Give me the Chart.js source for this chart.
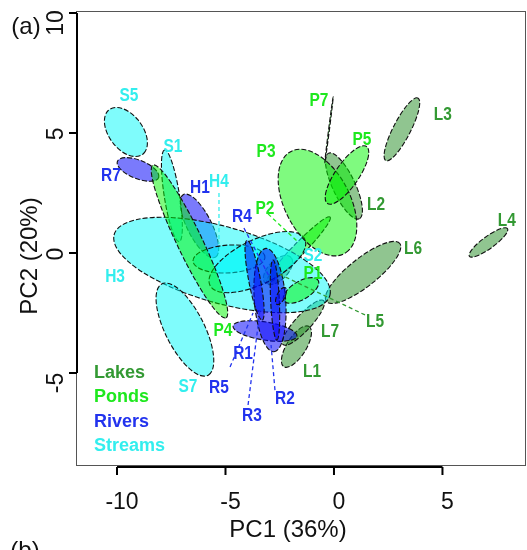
<!DOCTYPE html>
<html>
<head>
<meta charset="utf-8">
<script src="https://cdn.jsdelivr.net/npm/chart.js@4.4.1/dist/chart.umd.min.js"></script>
<style>
  html, body { margin: 0; padding: 0; background: #fff; }
  #wrap { width: 527px; height: 550px; }
</style>
</head>
<body>
<div id="wrap"><canvas id="pca-chart" width="527" height="550"></canvas></div>
<script>
// PC score limits and ticks
const xLimits = [-11.89, 8.85];
const yLimits = [-8.83, 10.08];
const xTicks = [-10, -5, 0, 5];
const yTicks = [-5, 0, 5, 10];

const groupNames = ["Lakes", "Ponds", "Rivers", "Streams"];
const groupFill = ["rgba(34,139,34,0.5)", "rgba(0,245,0,0.5)", "rgba(0,0,250,0.52)", "rgba(0,250,250,0.5)"];
const groupText = ["#339933", "#1ee81e", "#2233ee", "#33eeee"];

// one ellipse per site: centre, semi-axes and tilt (deg) in PC units, drawn in this order
const siteNames = ["L1", "L2", "L3", "L4", "L5", "L6", "L7", "H1", "R7", "P2",
  "S5", "S1", "H3", "H4", "S2", "S7", "P1", "P3", "P4", "P5", "P7",
  "R1", "R2", "R3", "R4", "R5"];
const siteGroup = ["Lakes", "Lakes", "Lakes", "Lakes", "Lakes", "Lakes", "Lakes", "Rivers", "Rivers", "Ponds",
  "Streams", "Streams", "Streams", "Streams", "Streams", "Streams", "Ponds", "Ponds", "Ponds", "Ponds", "Ponds",
  "Rivers", "Rivers", "Rivers", "Rivers", "Rivers"];
const centreX = [-1.73, 0.46, 3.13, 7.12, -2.58, 1.34, -1.41, -6.20, -9.03, -1.64,
  -9.59, -7.47, -5.16, -4.84, -3.53, -6.87, -1.52, -0.76, -6.66, 0.60, -0.23,
  -3.18, -2.95, -2.72, -3.66, -2.44];
const centreY = [-3.90, 2.79, 5.15, 0.44, -0.71, -0.81, -2.90, 1.13, 3.48, 0.13,
  5.04, 2.38, -0.50, -0.25, -0.38, -3.19, -1.56, 2.10, 0.48, 3.25, 5.13,
  -3.25, -1.96, -1.96, -1.13, -1.79];
const semiMajor = [1.02, 1.54, 1.50, 1.05, 0.80, 2.08, 1.31, 1.50, 1.01, 2.00,
  1.21, 1.94, 5.13, 1.66, 2.39, 2.18, 0.90, 2.46, 3.60, 1.49, 1.39,
  1.49, 2.16, 1.67, 1.70, 0.40];
const semiMinor = [0.43, 0.51, 0.39, 0.26, 0.43, 0.61, 0.35, 0.55, 0.39, 0.27,
  0.75, 0.35, 1.60, 0.58, 0.94, 0.88, 0.39, 1.47, 0.57, 0.52, 0.02,
  0.38, 0.72, 0.20, 0.27, 0.18];
const tiltDeg = [54, -62, 60, 33, 40, 35, 44, -60, -19, 43,
  -47, 100, -14, 3, 23, -60, 27, -57.5, -62, 52, 82,
  -8, -85, -87, -78, 60];

// where each site name is written
const labelX = [-1.01, 1.94, 5.02, 7.97, 1.89, 3.64, -0.18, -6.18, -10.28, -3.18,
  -9.45, -7.42, -10.09, -5.30, -0.97, -6.73, -0.97, -3.13, -5.12, 1.29, -0.69,
  -4.19, -2.26, -3.78, -4.24, -5.30];
const labelY = [-4.96, 2.00, 5.75, 1.33, -2.88, 0.17, -3.29, 2.71, 3.21, 1.83,
  6.54, 4.42, -1.00, 2.96, -0.13, -5.58, -0.88, 4.21, -3.25, 4.71, 6.33,
  -4.21, -6.08, -6.79, 1.50, -5.63];

// dashed leaders from a name to its ellipse
const leaderSite = ["H4", "P2", "R4", "L5", "R5", "R3", "R2"];
const leaderFromX = [-5.30, -3.04, -4.15, 1.43, -4.79, -3.96, -2.72];
const leaderFromY = [2.50, 1.63, 1.04, -2.58, -4.75, -6.33, -5.71];
const leaderToX = [-5.30, -1.66, -2.95, -2.63, -3.73, -3.41, -2.90];
const leaderToY = [0.375, 0.46, -1.04, -0.83, -2.50, -2.38, -3.83];

const axisFont = '23px "Liberation Sans", Arial, sans-serif';
const siteFont = 'bold 18px "Liberation Sans", Arial, sans-serif';
const legendFont = 'bold 18px "Liberation Sans", Arial, sans-serif';

function groupIndex(name) {
  return groupNames.indexOf(name);
}

const ellipsePlugin = {
  id: "siteEllipses",
  beforeDatasetsDraw(chart) {
    const { ctx, chartArea } = chart;
    const xs = chart.scales.x;
    const ys = chart.scales.y;
    const kx = xs.getPixelForValue(1) - xs.getPixelForValue(0);
    const ky = ys.getPixelForValue(0) - ys.getPixelForValue(1);

    ctx.save();
    ctx.beginPath();
    ctx.rect(chartArea.left, chartArea.top, chartArea.right - chartArea.left, chartArea.bottom - chartArea.top);
    ctx.clip();

    siteNames.forEach((name, i) => {
      ctx.save();
      ctx.translate(xs.getPixelForValue(centreX[i]), ys.getPixelForValue(centreY[i]));
      ctx.scale(kx, -ky);
      ctx.rotate(tiltDeg[i] * Math.PI / 180);
      ctx.beginPath();
      ctx.ellipse(0, 0, semiMajor[i], semiMinor[i], 0, 0, Math.PI * 2);
      ctx.restore();
      ctx.fillStyle = groupFill[groupIndex(siteGroup[i])];
      ctx.fill();
      ctx.setLineDash([5, 2]);
      ctx.lineWidth = 1.1;
      ctx.strokeStyle = "#111";
      ctx.stroke();
    });

    // leader lines
    leaderSite.forEach((name, i) => {
      const g = groupIndex(siteGroup[siteNames.indexOf(name)]);
      ctx.beginPath();
      ctx.moveTo(xs.getPixelForValue(leaderFromX[i]), ys.getPixelForValue(leaderFromY[i]));
      ctx.lineTo(xs.getPixelForValue(leaderToX[i]), ys.getPixelForValue(leaderToY[i]));
      ctx.setLineDash([4, 3]);
      ctx.lineWidth = 1.3;
      ctx.strokeStyle = groupText[g];
      ctx.stroke();
    });
    ctx.restore();
  },
};

const decorPlugin = {
  id: "axesAndText",
  afterDraw(chart) {
    const { ctx, chartArea } = chart;
    const xs = chart.scales.x;
    const ys = chart.scales.y;
    ctx.save();
    ctx.setLineDash([]);

    // plot box
    ctx.strokeStyle = "#555";
    ctx.lineWidth = 1;
    ctx.strokeRect(chartArea.left + 0.5, chartArea.top + 0.5,
      chartArea.right - chartArea.left - 1, chartArea.bottom - chartArea.top);

    // x axis
    const xAxisY = chartArea.bottom + 2;
    ctx.strokeStyle = "#000";
    ctx.lineWidth = 2;
    ctx.beginPath();
    ctx.moveTo(xs.getPixelForValue(xTicks[0]), xAxisY);
    ctx.lineTo(xs.getPixelForValue(xTicks[xTicks.length - 1]), xAxisY);
    xTicks.forEach((t) => {
      const px = xs.getPixelForValue(t);
      ctx.moveTo(px, xAxisY);
      ctx.lineTo(px, xAxisY + 8);
    });
    ctx.stroke();

    // y axis
    const yAxisX = chartArea.left + 1;
    ctx.beginPath();
    ctx.moveTo(yAxisX, ys.getPixelForValue(yTicks[0]));
    ctx.lineTo(yAxisX, ys.getPixelForValue(yTicks[yTicks.length - 1]));
    yTicks.forEach((t) => {
      const py = ys.getPixelForValue(t);
      ctx.moveTo(yAxisX, py);
      ctx.lineTo(yAxisX - 8, py);
    });
    ctx.stroke();

    ctx.fillStyle = "#111";
    ctx.font = axisFont;
    ctx.textAlign = "center";
    ctx.textBaseline = "middle";
    xTicks.forEach((t) => {
      ctx.fillText(String(t), xs.getPixelForValue(t) + 5, xAxisY + 36);
    });
    yTicks.forEach((t) => {
      const label = String(t);
      ctx.save();
      ctx.translate(yAxisX - 20, ys.getPixelForValue(t) + (label.length > 1 ? 10 : 1));
      ctx.rotate(-Math.PI / 2);
      ctx.fillText(label, 0, 0);
      ctx.restore();
    });

    ctx.font = '24px "Liberation Sans", Arial, sans-serif';
    ctx.fillText("PC1 (36%)", (chartArea.left + chartArea.right) / 2 - 13, chartArea.bottom + 65);
    ctx.save();
    ctx.translate(30, ys.getPixelForValue(0) + 3);
    ctx.rotate(-Math.PI / 2);
    ctx.fillText("PC2 (20%)", 0, 0);
    ctx.restore();
    ctx.fillText("(a)", 26, 27);
    ctx.fillText("(b)", 25, 551);

    // site names, set a little narrow
    ctx.font = siteFont;
    siteNames.forEach((name, i) => {
      ctx.fillStyle = groupText[groupIndex(siteGroup[i])];
      ctx.save();
      ctx.translate(xs.getPixelForValue(labelX[i]), ys.getPixelForValue(labelY[i]));
      ctx.scale(0.86, 1);
      ctx.fillText(name, 0, 0);
      ctx.restore();
    });

    // group key
    ctx.font = legendFont;
    ctx.textAlign = "left";
    groupNames.forEach((g, i) => {
      ctx.fillStyle = groupText[i];
      ctx.fillText(g, chartArea.left + 18, chartArea.bottom - 92 + i * 24.3);
    });
    ctx.restore();
  },
};

const datasets = groupNames.map((g) => ({
  label: g,
  data: siteNames
    .map((name, i) => ({ x: centreX[i], y: centreY[i], group: siteGroup[i] }))
    .filter((p) => p.group === g),
  pointRadius: 0,
  showLine: false,
}));

new Chart(document.getElementById("pca-chart"), {
  type: "scatter",
  data: { datasets },
  options: {
    responsive: false,
    animation: false,
    layout: { padding: { left: 76, right: 1, top: 11, bottom: 85 } },
    scales: {
      x: { type: "linear", min: xLimits[0], max: xLimits[1], display: false },
      y: { type: "linear", min: yLimits[0], max: yLimits[1], display: false },
    },
    plugins: {
      legend: { display: false },
      tooltip: { enabled: false },
    },
  },
  plugins: [ellipsePlugin, decorPlugin],
});
</script>
</body>
</html>
